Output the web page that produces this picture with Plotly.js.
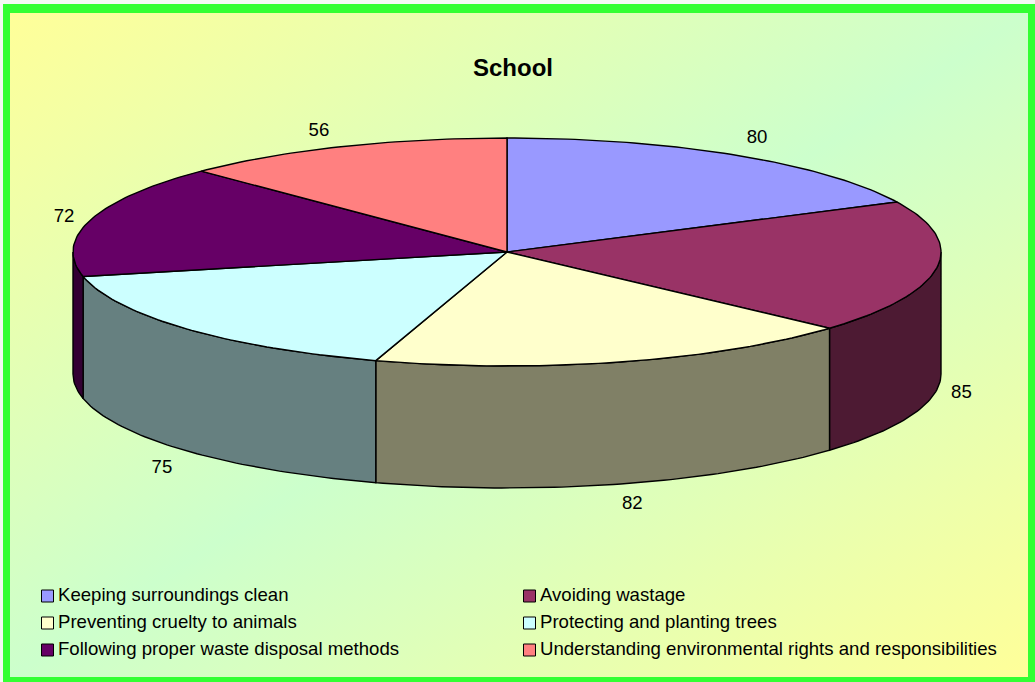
<!DOCTYPE html>
<html>
<head>
<meta charset="utf-8">
<title>School</title>
<script src="https://cdn.plot.ly/plotly-3.0.1.min.js"></script>
<style>
  html, body { margin: 0; padding: 0; background: #f4f9f4; }
  #chart {
    width: 1035px; height: 682px;
    background: linear-gradient(to bottom right, #FFFF99 0%, #CCFFCC 50%, #FFFF99 100%) 10px 13px / 1018px 664px no-repeat;
  }
</style>
</head>
<body>
<div id="chart"></div>
<script>
// Survey results for the school group
const categories = [
  "Keeping surroundings clean",
  "Avoiding wastage",
  "Preventing cruelty to animals",
  "Protecting and planting trees",
  "Following proper waste disposal methods",
  "Understanding environmental rights and responsibilities"
];
const values = [80, 85, 82, 75, 72, 56];
const topColors = ["#9999FF", "#993366", "#FFFFCC", "#CCFFFF", "#660066", "#FF8080"];
const wallColors = ["#4D4D80", "#4D1A33", "#808066", "#668080", "#330033", "#804040"];

// Projection of the tilted disc onto the pixel-scaled axes
const cx = 507, cy = 252, rx = 434, ry = 114, depth = 122;
const labelRx = 470, labelRy = 135;
const labelNudgeX = [1, -11, 2, 2, 8, -9];
const labelNudgeY = [1, 1, 0, 3, 3, 4];
const edgeWidth = 1.4;
const labelFont = { family: "Liberation Sans, Arial, sans-serif", size: 18.6, color: "#000" };

const px = a => cx + rx * Math.sin(a * Math.PI / 180);
const py = a => cy - ry * Math.cos(a * Math.PI / 180);

function arc(a0, a1) {
  const n = Math.max(2, Math.ceil(Math.abs(a1 - a0)));
  const out = [];
  for (let i = 0; i <= n; i++) out.push(a0 + (a1 - a0) * i / n);
  return out;
}

const total = values.reduce((s, v) => s + v, 0);
let running = 0;
const slices = values.map(v => {
  const start = running / total * 360;
  running += v;
  return { start, end: running / total * 360 };
});

const walls = [];
const tops = [];
slices.forEach((s, i) => {
  // Only the front half of the rim faces the viewer
  const a0 = Math.max(s.start, 90), a1 = Math.min(s.end, 270);
  if (a1 > a0) {
    const upper = arc(a0, a1), lower = arc(a1, a0);
    walls.push({
      type: "scatter", mode: "lines", fill: "toself", fillcolor: wallColors[i],
      line: { color: "#000", width: edgeWidth }, hoverinfo: "skip", showlegend: false,
      x: upper.map(px).concat(lower.map(px), [px(a0)]),
      y: upper.map(py).concat(lower.map(a => py(a) + depth), [py(a0)])
    });
  }
  const rim = arc(s.start, s.end);
  tops.push({
    type: "scatter", mode: "lines", fill: "toself", fillcolor: topColors[i],
    name: categories[i], line: { color: "#000", width: edgeWidth }, hoverinfo: "name", showlegend: false,
    x: [cx].concat(rim.map(px), [cx]),
    y: [cy].concat(rim.map(py), [cy])
  });
});

// Value labels sit just outside each slice, at its middle angle
const mids = slices.map(s => (s.start + s.end) / 2);
const valueLabels = {
  type: "scatter", mode: "text", hoverinfo: "skip", showlegend: false,
  x: mids.map((a, i) => cx + labelRx * Math.sin(a * Math.PI / 180) + labelNudgeX[i]),
  y: mids.map((a, i) => cy - labelRy * Math.cos(a * Math.PI / 180)
    + (Math.cos(a * Math.PI / 180) < 0 ? depth : 0) + labelNudgeY[i]),
  text: values.map(String),
  textposition: "middle center",
  textfont: labelFont
};

// Two-column key below the pie
const keyColumns = [47.5, 529.5];
const keyRows = [596, 623, 650];
const keyX = categories.map((c, i) => keyColumns[i % 2]);
const keyY = categories.map((c, i) => keyRows[Math.floor(i / 2)]);
const keySwatches = {
  type: "scatter", mode: "markers", hoverinfo: "skip", showlegend: false,
  x: keyX, y: keyY,
  marker: { symbol: "square", size: 12, color: topColors, line: { color: "#000", width: 1 } }
};
const keyLabels = {
  type: "scatter", mode: "text", hoverinfo: "skip", showlegend: false,
  x: keyX.map(v => v + 10.5), y: keyY.map(v => v + 0.7),
  text: categories, textposition: "middle right",
  textfont: labelFont
};

// Frame around the chart: the top band is wider than the others
const frameColor = "#33FF33";
const frame = [[3, 4, 10, 682], [1028, 4, 1035, 682], [3, 4, 1035, 13], [3, 677, 1035, 682]].map(r => ({
  type: "rect", xref: "x", yref: "y", x0: r[0], y0: r[1], x1: r[2], y1: r[3],
  line: { width: 0 }, fillcolor: frameColor, layer: "above"
}));

const layout = {
  width: 1035, height: 682,
  margin: { l: 0, r: 0, t: 0, b: 0 },
  paper_bgcolor: "rgba(0,0,0,0)", plot_bgcolor: "rgba(0,0,0,0)",
  title: {
    text: "<b>School</b>", x: 513 / 1035, y: 1 - 68 / 682, xanchor: "center", yanchor: "middle",
    font: { family: "Liberation Sans, Arial, sans-serif", size: 24, color: "#000" }
  },
  xaxis: { range: [0, 1035], visible: false, fixedrange: true, domain: [0, 1] },
  yaxis: { range: [682, 0], visible: false, fixedrange: true, domain: [0, 1] },
  showlegend: false,
  shapes: frame
};

Plotly.newPlot("chart", walls.concat(tops, [valueLabels, keySwatches, keyLabels]), layout, { displayModeBar: false });
</script>
</body>
</html>
